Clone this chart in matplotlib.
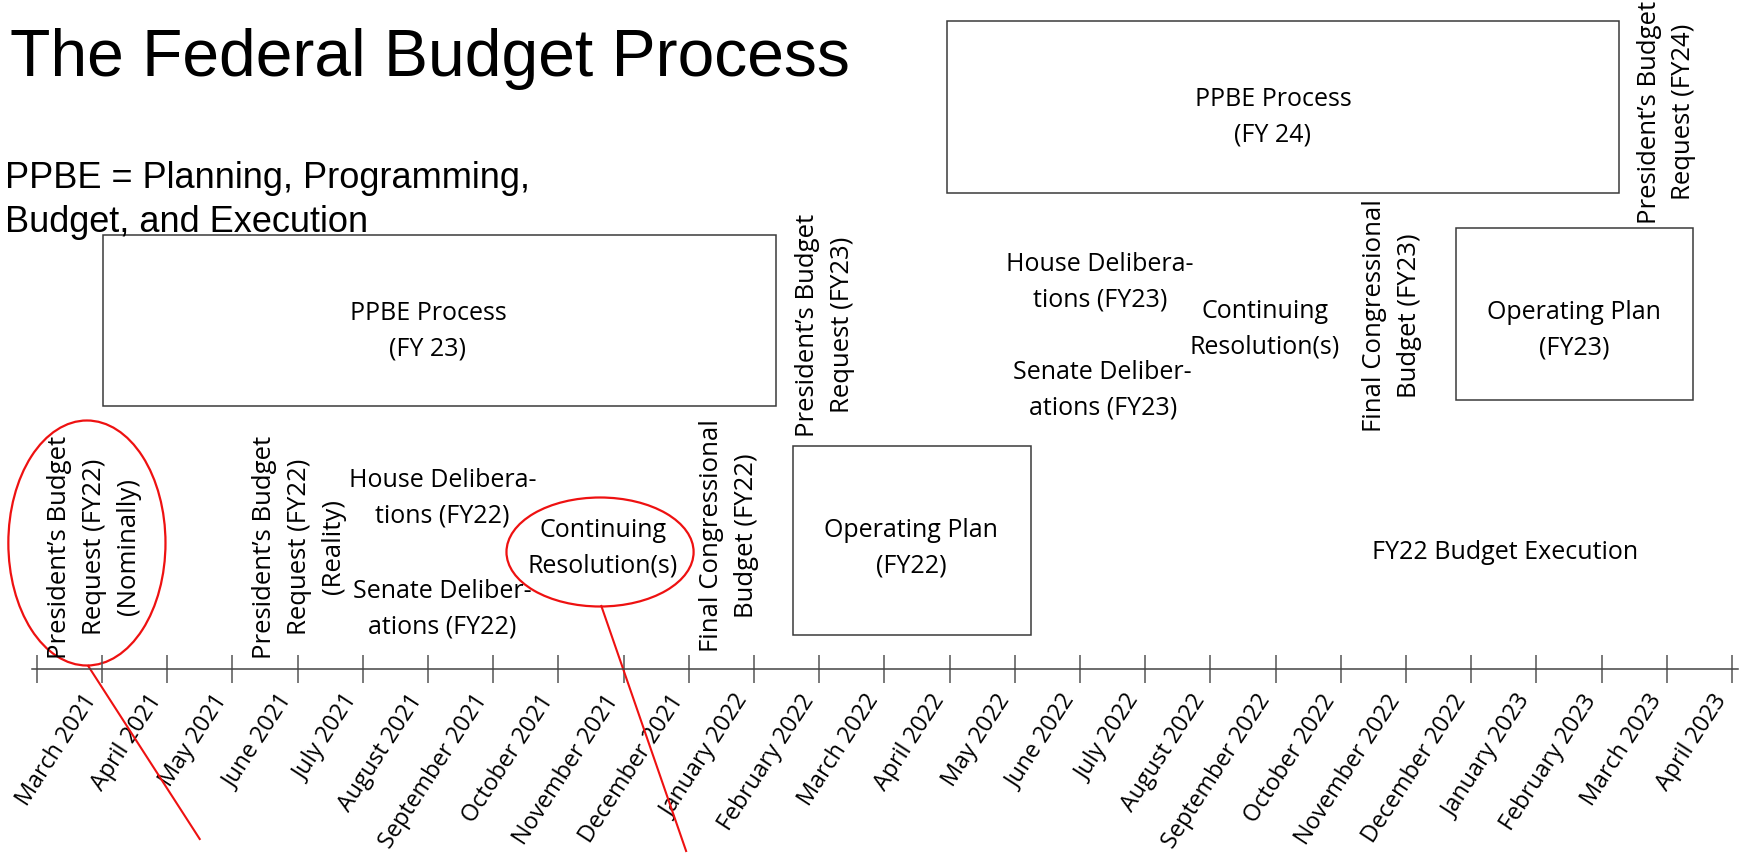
import matplotlib.pyplot as plt
from matplotlib.patches import Rectangle, Ellipse

# timeline ticks (first tick has no label)
months = ['', 'March 2021', 'April 2021', 'May 2021', 'June 2021', 'July 2021',
          'August 2021', 'September 2021', 'October 2021', 'November 2021',
          'December 2021', 'January 2022', 'February 2022', 'March 2022',
          'April 2022', 'May 2022', 'June 2022', 'July 2022', 'August 2022',
          'September 2022', 'October 2022', 'November 2022', 'December 2022',
          'January 2023', 'February 2023', 'March 2023', 'April 2023']

# boxed phases, start / end in months on the timeline
box_labels = ['PPBE Process\n(FY 23)', 'PPBE Process\n(FY 24)',
              'Operating Plan\n(FY22)', 'Operating Plan\n(FY23)']
box_start = [1.02, 13.96, 11.6, 21.77]
box_end = [11.34, 24.27, 15.25, 25.4]
box_text_month = [6.0, 18.96, 13.41, 23.58]

# milestones written vertically
mile_labels = ['President\u2019s Budget\nRequest (FY22)\n(Nominally)',
               'President\u2019s Budget\nRequest (FY22)\n(Reality)',
               'Final Congressional\nBudget (FY22)',
               'President\u2019s Budget\nRequest (FY23)',
               'Final Congressional\nBudget (FY23)',
               'President\u2019s Budget\nRequest (FY24)']
mile_month = [0.88, 4.03, 10.62, 12.09, 20.79, 25.0]

# free text phases
phase_labels = ['House Delibera-\ntions (FY22)', 'Senate Deliber-\nations (FY22)',
                'Continuing\nResolution(s)',
                'House Delibera-\ntions (FY23)', 'Senate Deliber-\nations (FY23)',
                'Continuing\nResolution(s)', 'FY22 Budget Execution']
phase_month = [6.22, 6.22, 8.68, 16.31, 16.35, 18.84, 22.52]

# red highlights
circ_month = [0.77, 8.64]
circ_width = [2.41, 2.87]
arrow_from = [0.79, 8.66]
arrow_to = [2.5, 9.96]

# vertical layout (pixels from top)
box_top = [236, 22, 447, 229]
box_bottom = [407, 194, 636, 401]
box_text_y = [331, 117, 548, 330]
mile_y = [547, 547, 536, 325, 316, 112]
phase_y = [498, 609, 548, 282, 390, 329, 553]
circ_y = [544, 553]
circ_h = [245, 109]
arrow_y0 = [667, 607]
arrow_y1 = [840, 852]
axis_y = 670

TXT = '#000000'
RED = '#ee1111'
LBL = 'Open Sans'

fig = plt.figure(figsize=(17.61, 8.54), dpi=100)
ax = fig.add_axes([0, 0, 1, 1])
ax.set_xlim(-0.563, 26.446)
ax.set_ylim(854, 0)

# timeline axis
for s in ['top', 'left', 'right']:
    ax.spines[s].set_visible(False)
ax.spines['bottom'].set_position(('data', axis_y))
ax.spines['bottom'].set_bounds(-0.07, 26.09)
ax.spines['bottom'].set_color('#444444')
ax.spines['bottom'].set_linewidth(1.1)
ax.set_yticks([])
ax.set_xticks(range(len(months)))
ax.set_xticklabels(months, rotation=57, ha='right', fontsize=16.8,
                   family=LBL, color=TXT)
ax.tick_params(axis='x', direction='inout', length=20, width=1.1,
               color='#555555', pad=4.4)

# boxes
for lab, x0, x1, t, b, tx, ty in zip(box_labels, box_start, box_end, box_top,
                                     box_bottom, box_text_month, box_text_y):
    ax.add_patch(Rectangle((x0, t), x1 - x0, b - t, fill=False,
                           edgecolor='#3a3a3a', linewidth=1.1))
    ax.text(tx, ty, lab, ha='center', va='center', multialignment='center',
            fontsize=18, family=LBL, color=TXT, linespacing=1.55)

for lab, x, y in zip(mile_labels, mile_month, mile_y):
    ax.text(x, y, lab, rotation=90, ha='center', va='center',
            multialignment='center', fontsize=18.5, family=LBL, color=TXT,
            linespacing=1.5)

for lab, x, y in zip(phase_labels, phase_month, phase_y):
    ax.text(x, y, lab, ha='center', va='center', multialignment='center',
            fontsize=18, family=LBL, color=TXT, linespacing=1.55)

for x, w, y, h in zip(circ_month, circ_width, circ_y, circ_h):
    ax.add_patch(Ellipse((x, y), w, h, fill=False, edgecolor=RED, linewidth=1.6))
for x0, x1, y0, y1 in zip(arrow_from, arrow_to, arrow_y0, arrow_y1):
    ax.plot([x0, x1], [y0, y1], color=RED, linewidth=1.5, clip_on=False)

fig.text(10 / 1761, 1 - 76 / 854, 'The Federal Budget Process', ha='left',
         va='baseline', fontsize=47.5, family='Liberation Sans', color='black')
# va='baseline' refers to the last line here
fig.text(5 / 1761, 1 - 232 / 854,
         'PPBE = Planning, Programming,\nBudget, and Execution', ha='left',
         va='baseline', fontsize=26, family='Liberation Sans', color='black',
         linespacing=1.34)

fig.savefig('out.png', dpi=100, facecolor='white')
